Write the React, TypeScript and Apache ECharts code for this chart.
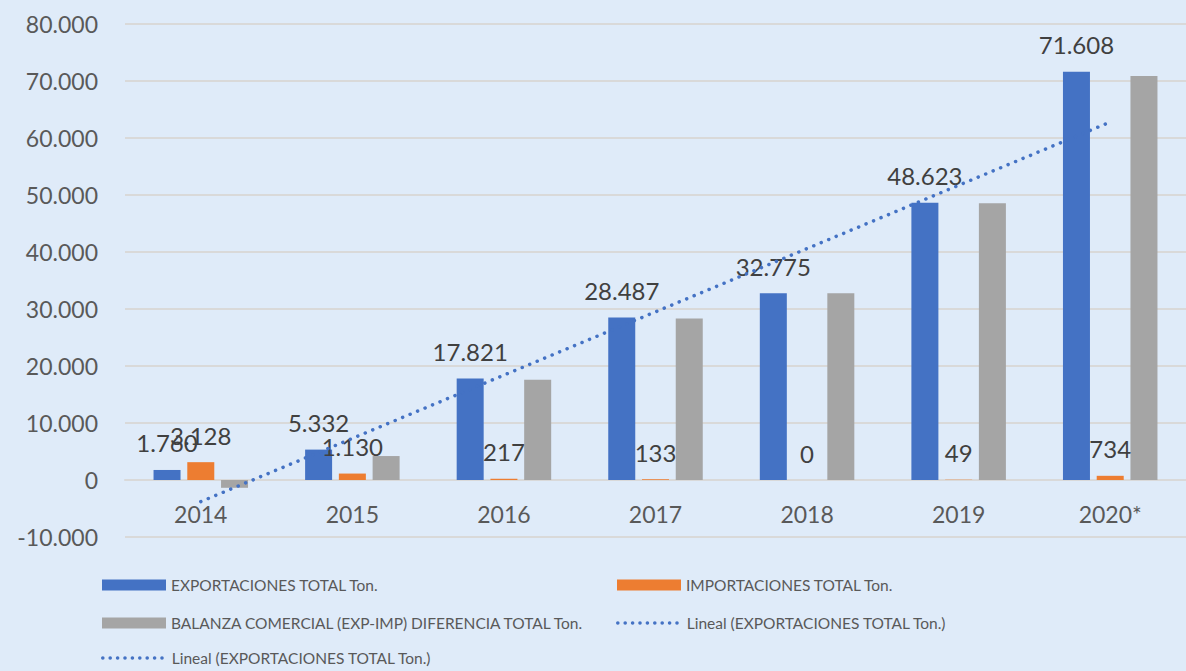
import React, { useEffect, useRef } from "react";
import * as echarts from "echarts";

const categories = ["2014", "2015", "2016", "2017", "2018", "2019", "2020*"];
const exportaciones = [1760, 5332, 17821, 28487, 32775, 48623, 71608];
const importaciones = [3128, 1130, 217, 133, 0, 49, 734];
const balanza = [-1368, 4202, 17604, 28354, 32775, 48574, 70874];
// trendline endpoints (2014 and 2020*)
const tendencia = [-3800, null, null, null, null, null, 62800];

const nameExp = "EXPORTACIONES TOTAL Ton.";
const nameImp = "IMPORTACIONES TOTAL Ton.";
const nameBal = "BALANZA COMERCIAL (EXP-IMP) DIFERENCIA TOTAL Ton.";
const nameTrend = "Lineal (EXPORTACIONES TOTAL Ton.)";

const fmt = (v: number) =>
  String(Math.round(v)).replace(/\B(?=(\d{3})+(?!\d))/g, ".");

const FONT = "Lato";
const TREND_COLOR = "#4472C4";

export default function App() {
  const ref = useRef<HTMLDivElement>(null);
  useEffect(() => {
    document.body.style.margin = "0";
    const chart = echarts.init(ref.current!, null, { renderer: "svg" });
    const legendText = { color: "#595959", fontSize: 15.5, fontFamily: FONT };
    const mkLegend = (name: string, left: number, top: number, isLine: boolean) => {
      const l: any = {
        data: [name],
        left,
        top,
        padding: 0,
        itemWidth: 64,
        itemHeight: isLine ? 14 : 11,
        textStyle: legendText,
        selectedMode: false,
      };
      if (isLine) {
        l.itemStyle = { opacity: 0 };
        l.lineStyle = { color: TREND_COLOR, width: 3.5, type: [0.1, 7.3], cap: "round" };
      } else {
        l.icon = "rect";
      }
      return l;
    };
    chart.setOption({
      animation: false,
      backgroundColor: "#DFEBF9",
      textStyle: { fontFamily: FONT },
      grid: { left: 125, right: -10, top: 24, bottom: 134 },
      legend: [
        mkLegend(nameExp, 102, 577, false),
        mkLegend(nameImp, 617, 577, false),
        mkLegend(nameBal, 102, 615, false),
        mkLegend(nameTrend, 616, 615, true),
        mkLegend(nameTrend, 101, 650, true),
      ],
      xAxis: {
        type: "category",
        data: categories,
        position: "bottom",
        offset: -57,
        axisLine: { onZero: false, lineStyle: { color: "#D9D9D9", width: 2 } },
        axisTick: { show: false },
        axisLabel: { color: "#595959", fontSize: 23, fontFamily: FONT, margin: 22 },
      },
      yAxis: {
        type: "value",
        min: -10000,
        max: 80000,
        interval: 10000,
        axisLine: { show: false },
        axisTick: { show: false },
        splitLine: { lineStyle: { color: "#D9D9D9", width: 2 } },
        axisLabel: {
          color: "#595959",
          fontSize: 23,
          fontFamily: FONT,
          margin: 27,
          formatter: (v: number) => fmt(v),
        },
      },
      series: [
        {
          name: nameExp,
          type: "bar",
          data: exportaciones,
          barWidth: 27,
          barGap: "25%",
          itemStyle: { color: "#4472C4" },
          label: {
            show: true,
            position: "top",
            distance: 15,
            color: "#404040",
            fontSize: 24,
            fontFamily: FONT,
            formatter: (p: any) => fmt(p.value),
          },
        },
        {
          name: nameImp,
          type: "bar",
          data: importaciones,
          barWidth: 27,
          barGap: "25%",
          itemStyle: { color: "#ED7D31" },
          label: {
            show: true,
            position: "top",
            distance: 15,
            color: "#404040",
            fontSize: 24,
            fontFamily: FONT,
            formatter: (p: any) => fmt(p.value),
          },
        },
        {
          name: nameBal,
          type: "bar",
          data: balanza,
          barWidth: 27,
          barGap: "25%",
          itemStyle: { color: "#A5A5A5" },
        },
        {
          name: nameTrend,
          type: "line",
          data: tendencia,
          connectNulls: true,
          symbol: "none",
          z: 5,
          lineStyle: { color: TREND_COLOR, width: 3.5, type: [0.1, 8], cap: "round" },
        },
      ],
    });
    return () => chart.dispose();
  }, []);
  return <div ref={ref} style={{ width: 1186, height: 671 }} />;
}
